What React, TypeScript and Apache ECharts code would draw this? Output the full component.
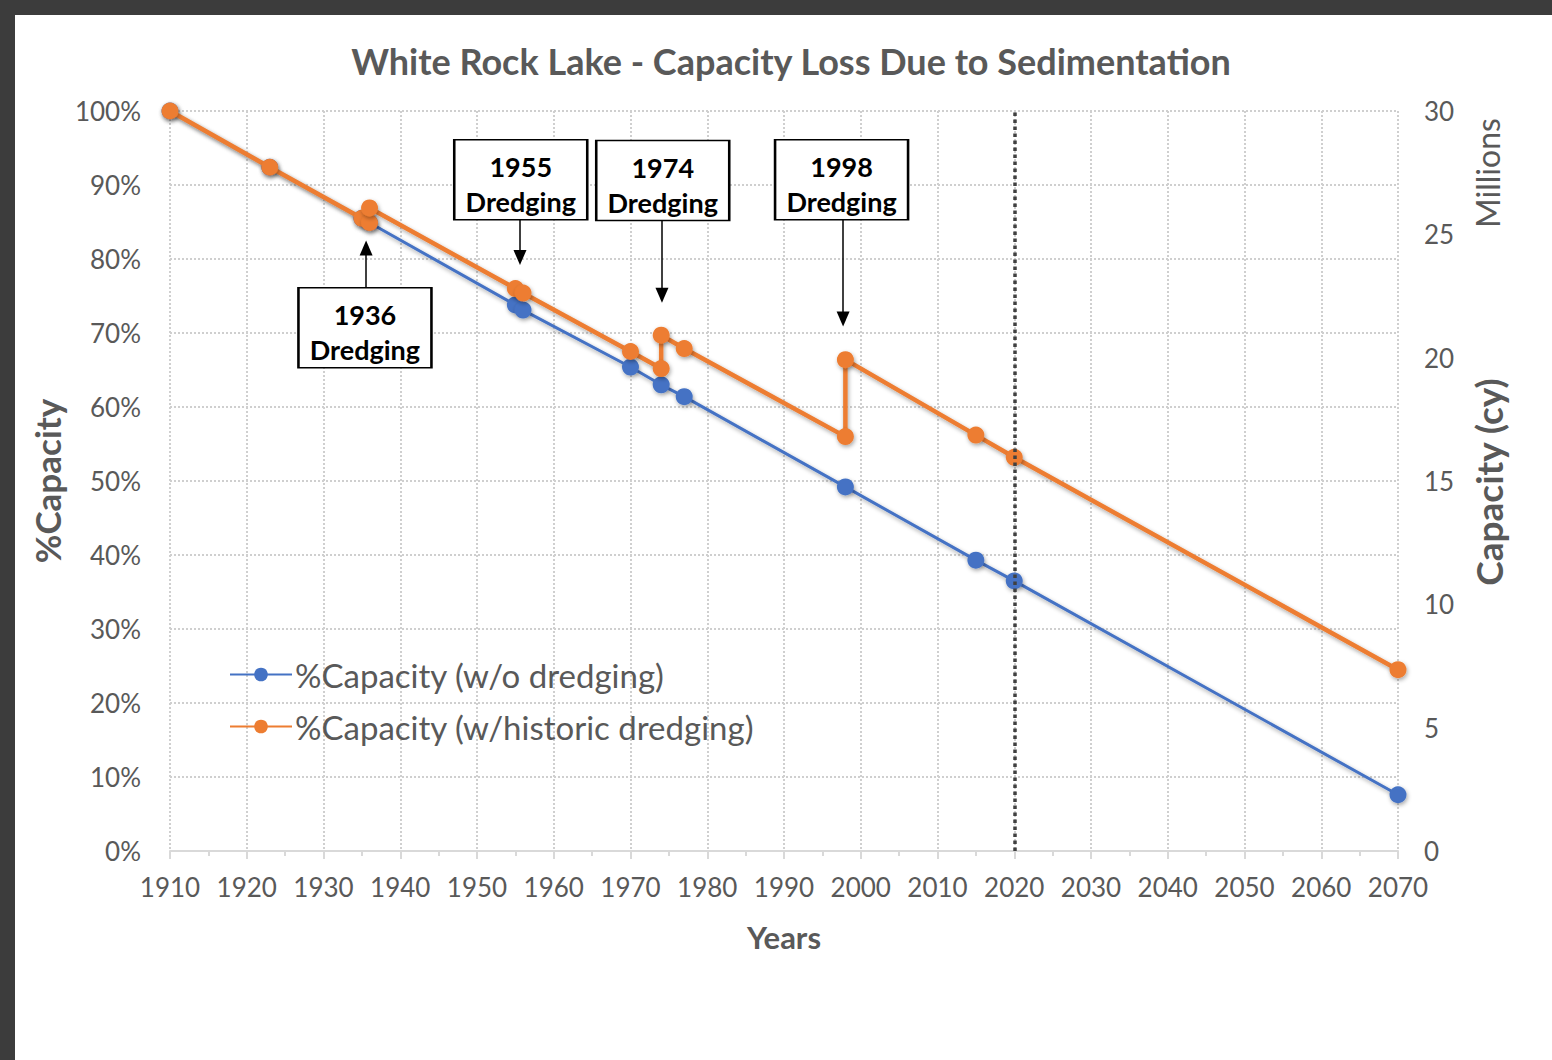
import React, { useEffect, useRef } from "react";
import * as echarts from "echarts";

const titleText = "White Rock Lake - Capacity Loss Due to Sedimentation";
const seriesNames = ["%Capacity (w/o dredging)", "%Capacity (w/historic dredging)"];

const blueYears = [1910, 1923, 1935, 1936, 1955, 1956, 1970, 1974, 1977, 1998, 2015, 2020, 2070];
const blueValues = [100, 92.4, 85.5, 84.9, 73.8, 73.1, 65.4, 63.0, 61.4, 49.2, 39.3, 36.5, 7.6];

const orangeYears = [1910, 1923, 1935, 1936, 1936, 1955, 1956, 1970, 1974, 1974, 1977, 1998, 1998, 2015, 2020, 2070];
const orangeValues = [100, 92.4, 85.5, 84.9, 86.9, 76.0, 75.4, 67.5, 65.2, 69.7, 67.9, 56.0, 66.4, 56.2, 53.2, 24.5];

// annotations: label, box centre (year, %), arrow (year, from %, to %)
const annLabels = ["1936\nDredging", "1955\nDredging", "1974\nDredging", "1998\nDredging"];
const annBoxYear = [1935.4, 1955.7, 1974.2, 1997.5];
const annBoxValue = [70.7, 90.7, 90.6, 90.7];
const annArrowYear = [1935.55, 1955.6, 1974.1, 1997.7];
const annArrowFrom = [76.1, 85.4, 85.3, 85.3];
const annArrowTo = [81.5, 80.2, 75.1, 71.9];

const currentYear = 2020;
const rightAxisMax = 30;

const FONT = "Lato, 'Open Sans', sans-serif";
const GREY = "#595959";

export default function App() {
  const ref = useRef<HTMLDivElement>(null);
  useEffect(() => {
    if (!ref.current) return;
    const chart = echarts.init(ref.current, undefined, { renderer: "svg" });
    const blueData = blueYears.map((y, i) => [y, blueValues[i]]);
    const orangeData = orangeYears.map((y, i) => [y, orangeValues[i]]);
    const shadow = { shadowBlur: 4, shadowColor: "rgba(0,0,0,0.35)", shadowOffsetX: 1, shadowOffsetY: 2 };
    chart.setOption({
      animation: false,
      textStyle: { fontFamily: FONT },
      graphic: [
        {
          type: "text",
          x: 776,
          y: 46,
          style: {
            text: titleText,
            fill: GREY,
            font: `bold 36px ${FONT}`,
            textAlign: "center",
            textVerticalAlign: "middle",
          },
        },
        {
          type: "text",
          x: 1473,
          y: 467,
          rotation: Math.PI / 2,
          style: {
            text: "Capacity (cy)",
            fill: GREY,
            font: `bold 37px ${FONT}`,
            textAlign: "center",
            textVerticalAlign: "middle",
          },
        },
        {
          type: "text",
          x: 1472,
          y: 158,
          rotation: Math.PI / 2,
          style: {
            text: "Millions",
            fill: GREY,
            font: `32px ${FONT}`,
            textAlign: "center",
            textVerticalAlign: "middle",
          },
        },
      ],
      legend: {
        data: seriesNames,
        orient: "vertical",
        left: 209,
        top: 638,
        itemWidth: 62,
        itemHeight: 17,
        itemGap: 19,
        textStyle: { fontSize: 33, color: GREY, fontFamily: FONT, padding: [0, 0, 0, -2] },
      },
      grid: { left: 155, right: 154, top: 96, bottom: 209, containLabel: false },
      xAxis: {
        type: "value",
        min: 1910,
        max: 2070,
        interval: 10,
        name: "Years",
        nameLocation: "middle",
        nameGap: 70,
        nameTextStyle: { fontSize: 31, fontWeight: "bold", color: GREY, fontFamily: FONT },
        axisLine: { show: true, lineStyle: { color: "#d9d9d9", width: 2 } },
        axisTick: { show: true, length: 8, lineStyle: { color: "#d9d9d9", width: 2 } },
        minorTick: { show: true, splitNumber: 2, length: 5, lineStyle: { color: "#d9d9d9", width: 2 } },
        axisLabel: { fontSize: 26, color: GREY, margin: 23, fontFamily: FONT, formatter: (v: number) => String(v) },
        splitLine: { show: true, lineStyle: { type: "dotted", color: "#cfcfcf", width: 2 } },
      },
      yAxis: [
        {
          type: "value",
          min: 0,
          max: 100,
          interval: 10,
          name: "%Capacity",
          nameLocation: "middle",
          nameGap: 106,
          nameRotate: 90,
          nameTextStyle: { fontSize: 35, fontWeight: "bold", color: GREY, fontFamily: FONT },
          axisLine: { show: false },
          axisTick: { show: false },
          axisLabel: { fontSize: 26, color: GREY, margin: 29, fontFamily: FONT, formatter: "{value}%" },
          splitLine: { show: true, lineStyle: { type: "dotted", color: "#cfcfcf", width: 2 } },
        },
        {
          type: "value",
          min: 0,
          max: rightAxisMax,
          interval: 5,
          position: "right",
          axisLine: { show: false },
          axisTick: { show: false },
          axisLabel: { fontSize: 26, color: GREY, margin: 26, fontFamily: FONT },
          splitLine: { show: false },
        },
      ],
      series: [
        {
          name: seriesNames[0],
          type: "line",
          data: blueData,
          yAxisIndex: 0,
          symbol: "circle",
          symbolSize: 17,
          color: "#4472C4",
          lineStyle: { width: 3, color: "#4472C4", ...shadow },
          itemStyle: { color: "#4472C4", ...shadow },
          markLine: {
            silent: true,
            symbol: "none",
            label: { show: false },
            lineStyle: { type: "dotted", color: "#404040", width: 3.5 },
            data: [{ xAxis: currentYear }],
          },
          z: 3,
        },
        {
          name: seriesNames[1],
          type: "line",
          data: orangeData,
          yAxisIndex: 0,
          symbol: "circle",
          symbolSize: 17,
          color: "#ED7D31",
          lineStyle: { width: 4.5, color: "#ED7D31", ...shadow },
          itemStyle: { color: "#ED7D31", ...shadow },
          z: 4,
        },
        {
          name: "annotations",
          type: "line",
          data: [],
          yAxisIndex: 0,
          z: 6,
          markLine: {
            silent: true,
            symbol: ["none", "triangle"],
            symbolSize: [13, 15],
            label: { show: false },
            lineStyle: { type: "solid", color: "#000", width: 1.5 },
            itemStyle: { color: "#000" },
            data: annArrowYear.map((y, i) => [
              { coord: [y, annArrowFrom[i]] },
              { coord: [y, annArrowTo[i]] },
            ]),
          },
          markPoint: {
            silent: true,
            symbol: "rect",
            symbolSize: [133, 80],
            itemStyle: { color: "#fff", borderColor: "#000", borderWidth: 2 },
            label: {
              show: true,
              position: "inside",
              offset: [0, 4],
              formatter: "{b}",
              color: "#000",
              fontSize: 27,
              fontWeight: "bold",
              lineHeight: 35,
              fontFamily: FONT,
            },
            data: annLabels.map((t, i) => ({ name: t, coord: [annBoxYear[i], annBoxValue[i]] })),
          },
        },
      ],
    });
    return () => chart.dispose();
  }, []);
  return (
    <div style={{ position: "absolute", left: 0, top: 0, width: 1552, height: 1060, background: "#3c3c3c" }}>
      <div
        ref={ref}
        style={{ position: "absolute", left: 15, top: 15, width: 1537, height: 1045, background: "#fff" }}
      />
    </div>
  );
}
